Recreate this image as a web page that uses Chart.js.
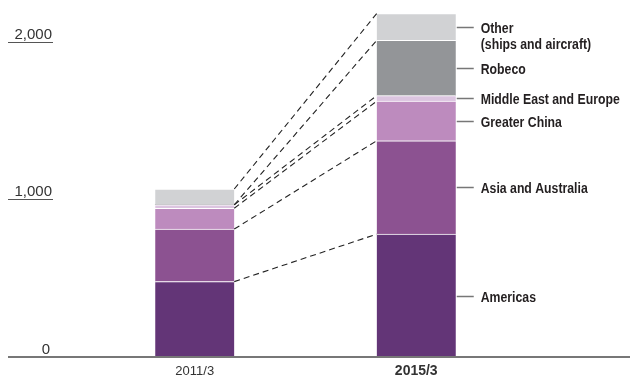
<!DOCTYPE html>
<html>
<head>
<meta charset="utf-8">
<script src="https://cdn.jsdelivr.net/npm/chart.js@4"></script>
<style>
  body { margin: 0; background: #fff; }
  #wrap { width: 630px; height: 377px; }
</style>
</head>
<body>
<div id="wrap"><canvas id="segChart" width="630" height="377"></canvas></div>
<script>
// data (billions of yen)
const years = ['2011/3', '2015/3'];
const segmentNames = ['Americas', 'Asia and Australia', 'Greater China', 'Middle East and Europe', 'Robeco', ['Other', '(ships and aircraft)']];
const americas = [478, 779];
const asiaAustralia = [333, 592];
const greaterChina = [132, 251];
const middleEastEurope = [22, 35];
const robeco = [0, 351];
const other = [100, 170];
const yTicks = [0, 1000, 2000];

const colors = ['#633577', '#8c5291', '#bd8bbe', '#dcc5e0', '#939598', '#d1d2d4'];
const series = [americas, asiaAustralia, greaterChina, middleEastEurope, robeco, other];

const labelFont = 'bold 14px "Liberation Sans", Arial, sans-serif';

// fake a condensed face by squeezing the text horizontally
function narrowText(c, text, x, y, k) {
    c.save();
    c.translate(x, y);
    c.scale(k, 1);
    c.fillText(text, 0, 0);
    c.restore();
}

const decorPlugin = {
    id: 'decor',
    afterDatasetsDraw(chart) {
        const c = chart.ctx;
        const y = chart.scales.y;
        const x = chart.scales.x;

        // dashed connectors between the two bars
        c.save();
        c.strokeStyle = '#222';
        c.lineWidth = 1.1;
        c.setLineDash([6, 4]);
        chart.data.datasets.forEach((ds, i) => {
            const meta = chart.getDatasetMeta(i);
            const a = meta.data[0], b = meta.data[1];
            c.beginPath();
            c.moveTo(a.x + a.width / 2, a.y);
            c.lineTo(b.x - b.width / 2, b.y);
            c.stroke();
        });
        c.restore();

        // segment labels on the right of the 2015 bar
        c.save();
        c.font = labelFont;
        const k = 139 / c.measureText('Middle East and Europe').width;
        c.fillStyle = '#231f20';
        c.textBaseline = 'alphabetic';
        chart.data.datasets.forEach((ds, i) => {
            const b = chart.getDatasetMeta(i).data[1];
            const my = Math.round((b.y + b.base) / 2) + 0.5;
            const right = b.x + b.width / 2;
            c.strokeStyle = '#777';
            c.lineWidth = 1.5;
            c.beginPath();
            c.moveTo(right + 1, my);
            c.lineTo(right + 18, my);
            c.stroke();
            const lines = [].concat(ds.label);
            lines.forEach((t, n) => narrowText(c, t, right + 25, my + 5 + n * 16, k));
        });
        c.restore();

        // y axis labels with short rules
        c.save();
        c.font = '15px "Liberation Sans", Arial, sans-serif';
        c.fillStyle = '#333';
        c.textAlign = 'right';
        c.textBaseline = 'alphabetic';
        yTicks.forEach(v => {
            const py = Math.round(y.getPixelForValue(v));
            c.fillText(v.toLocaleString('en-US'), v === 0 ? 50 : 52, py - 3);
            if (v !== 0) {
                c.strokeStyle = '#555';
                c.lineWidth = 1;
                c.beginPath();
                c.moveTo(8, py + 0.5);
                c.lineTo(53, py + 0.5);
                c.stroke();
            }
        });
        // base line
        const by = y.getPixelForValue(0);
        c.strokeStyle = '#777';
        c.lineWidth = 2;
        c.beginPath();
        c.moveTo(8, by);
        c.lineTo(630, by);
        c.stroke();

        // category labels
        c.textAlign = 'center';
        c.textBaseline = 'middle';
        c.fillStyle = '#333';
        years.forEach((yr, i) => {
            c.font = i === 1 ? 'bold 14px "Liberation Sans", Arial, sans-serif' : '13px "Liberation Sans", Arial, sans-serif';
            c.fillText(yr, x.getPixelForValue(i), 371);
        });
        c.restore();
    }
};

new Chart(document.getElementById('segChart'), {
    type: 'bar',
    data: {
        labels: years,
        datasets: series.map((d, i) => ({
            label: segmentNames[i],
            data: d,
            backgroundColor: colors[i],
            borderColor: '#fff',
            borderWidth: { top: 1, right: 0, bottom: 0, left: 0 },
            barThickness: 79
        }))
    },
    options: {
        responsive: false,
        animation: false,
        layout: { padding: { top: 10, bottom: 20, left: 84, right: 103 } },
        plugins: { legend: { display: false }, tooltip: { enabled: false } },
        scales: {
            x: { stacked: true, display: false },
            y: { stacked: true, display: false, min: 0, max: 2200 }
        }
    },
    plugins: [decorPlugin]
});
</script>
</body>
</html>
